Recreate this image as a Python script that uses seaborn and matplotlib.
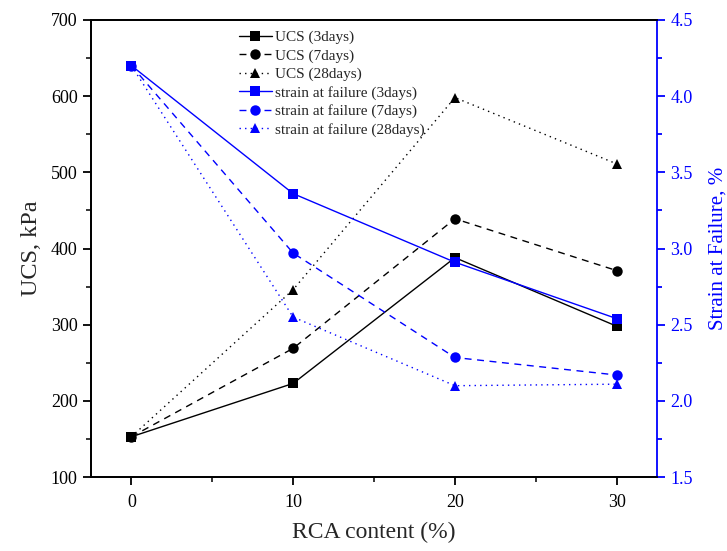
import matplotlib
matplotlib.use("Agg")
import matplotlib.pyplot as plt
from matplotlib.ticker import MultipleLocator, FormatStrFormatter
import pandas as pd
import seaborn as sns

# data
rca = [0, 10, 20, 30]
ucs_3d = [153, 223, 388, 298]
ucs_7d = [153, 269, 439, 371]
ucs_28d = [153, 346, 598, 511]
strain_3d = [4.20, 3.36, 2.91, 2.54]
strain_7d = [4.20, 2.97, 2.285, 2.17]
strain_28d = [4.20, 2.55, 2.10, 2.11]

sns.set_theme(style="ticks")
plt.rcParams['font.family'] = ['Liberation Serif', 'DejaVu Serif']

fig, ax = plt.subplots(figsize=(7.27, 5.51), dpi=100)
ax2 = ax.twinx()

left_series = [("UCS (3days)", ucs_3d, "-", "s"),
               ("UCS (7days)", ucs_7d, (0, (5, 4)), "o"),
               ("UCS (28days)", ucs_28d, (0, (1, 3)), "^")]
right_series = [("strain at failure (3days)", strain_3d, "-", "s"),
                ("strain at failure (7days)", strain_7d, (0, (5, 4)), "o"),
                ("strain at failure (28days)", strain_28d, (0, (1, 3)), "^")]

for name, vals, ls, mk in left_series:
    df = pd.DataFrame({"x": rca, "y": vals})
    sns.lineplot(data=df, x="x", y="y", ax=ax, color="black", linestyle=ls,
                 marker=mk, markersize=7.5, markeredgewidth=0, linewidth=1.0, label=name)
for name, vals, ls, mk in right_series:
    df = pd.DataFrame({"x": rca, "y": vals})
    sns.lineplot(data=df, x="x", y="y", ax=ax2, color="blue", linestyle=ls,
                 marker=mk, markersize=7.5, markeredgewidth=0, linewidth=1.0, label=name)

ax.set_xlim(-2.5, 32.5)
ax.set_ylim(100, 700)
ax2.set_ylim(1.5, 4.5)
ax.set_xticks(rca)
ax.xaxis.set_minor_locator(MultipleLocator(5))
ax.yaxis.set_minor_locator(MultipleLocator(50))
ax2.yaxis.set_major_locator(MultipleLocator(0.5))
ax2.yaxis.set_minor_locator(MultipleLocator(0.25))
ax2.yaxis.set_major_formatter(FormatStrFormatter("%.1f"))

ax.set_xlabel("RCA content (%)", fontsize=17, labelpad=8)
ax.set_ylabel("UCS, kPa", fontsize=17.5, labelpad=6)
ax2.set_ylabel("Strain at Failure, %", fontsize=15, color="blue", labelpad=11)

for a in (ax, ax2):
    for s in a.spines.values():
        s.set_linewidth(1.3)
        s.set_color("black")
ax2.spines["right"].set_color("blue")
ax.spines["right"].set_visible(False)

ax.tick_params(axis="both", which="major", direction="out", length=6, width=1.3,
               labelsize=13, colors="black")
ax.tick_params(axis="both", which="minor", direction="out", length=3.5, width=1.3)
ax.tick_params(axis="x", pad=6)
ax2.tick_params(axis="y", which="major", direction="out", length=6, width=1.3,
                labelsize=13, colors="blue")
ax2.tick_params(axis="y", which="minor", direction="out", length=3.5, width=1.3, colors="blue")

h1, l1 = ax.get_legend_handles_labels()
h2, l2 = ax2.get_legend_handles_labels()
ax.get_legend().remove()
ax2.get_legend().remove()
ax2.legend(h1 + h2, l1 + l2, loc="upper left", bbox_to_anchor=(0.25, 0.99),
           frameon=False, fontsize=11, handlelength=2.2, labelspacing=0.3,
           handletextpad=0.2, borderaxespad=0)

fig.subplots_adjust(left=0.125, right=0.904, top=0.964, bottom=0.134)
fig.savefig("out.png", dpi=100)
